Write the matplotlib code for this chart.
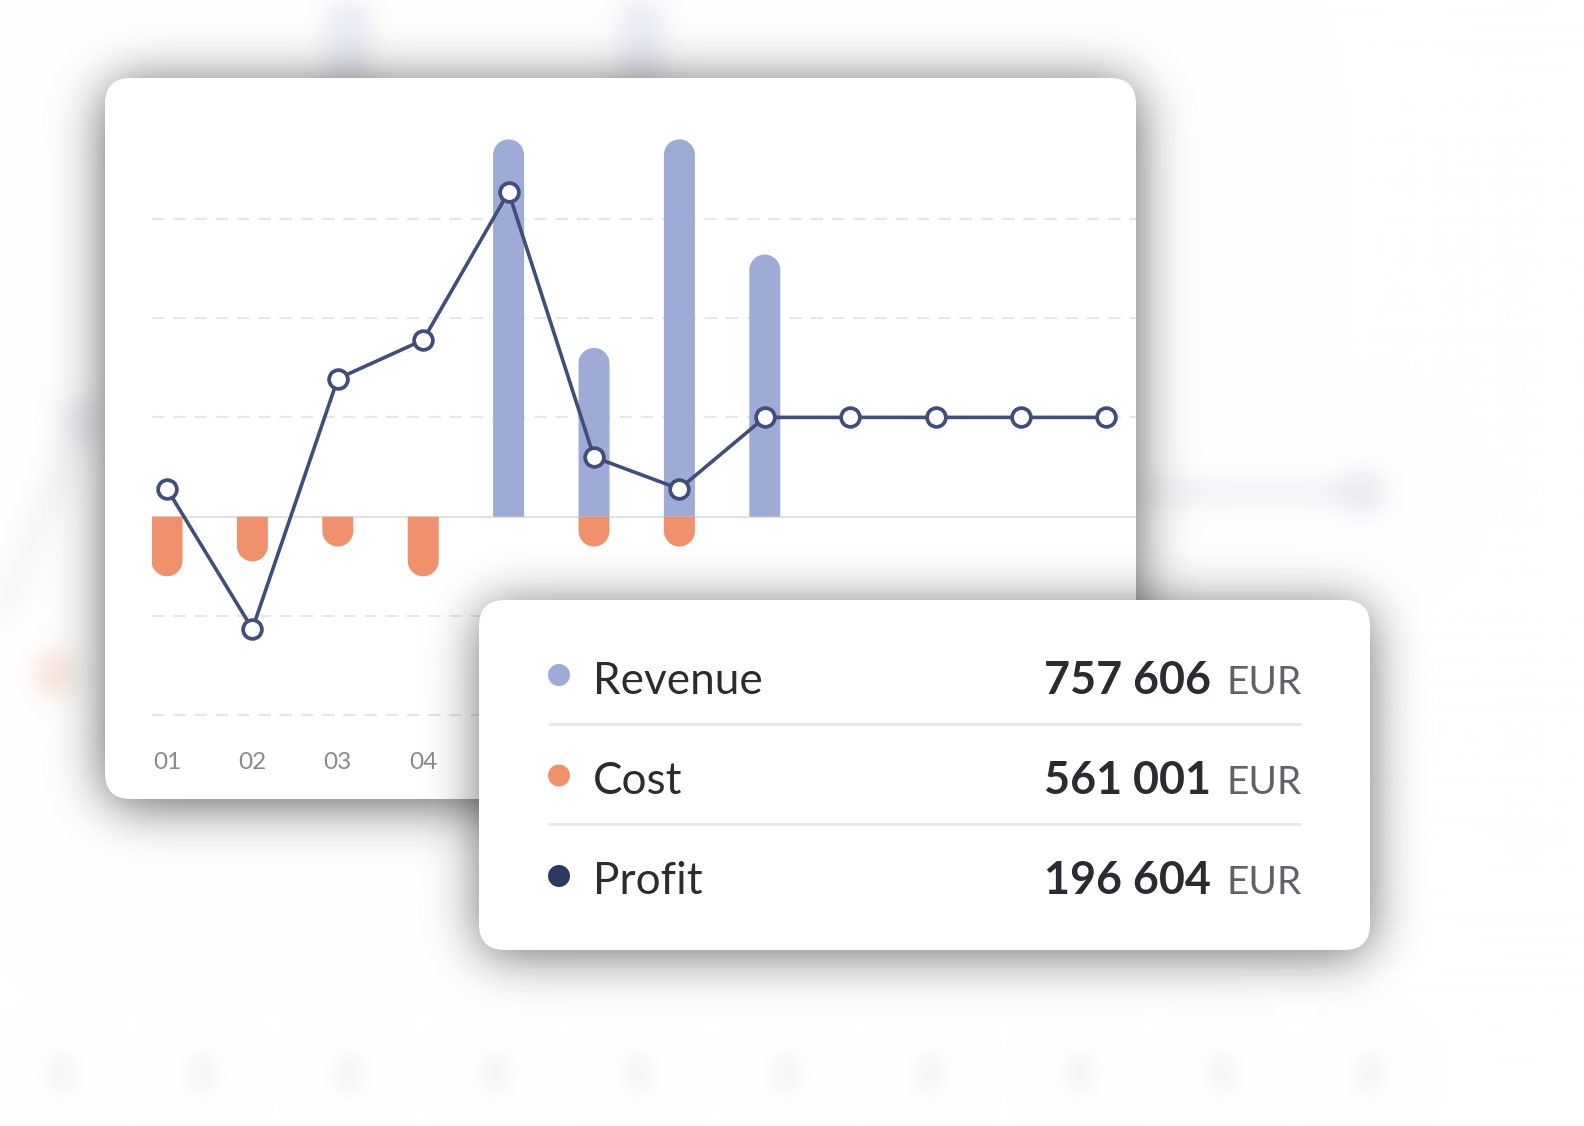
import numpy as np
import matplotlib
matplotlib.use("Agg")
import matplotlib.pyplot as plt
from matplotlib.colors import to_rgb
from matplotlib.patches import FancyBboxPatch, Circle, Polygon

plt.rcParams['font.family'] = ['Lato', 'DejaVu Sans']

# ---- data (k EUR per month) ----
months = ["01", "02", "03", "04", "05", "06", "07", "08", "09", "10", "11", "12"]
revenue = [0, 0, 0, 0, 380, 170, 380, 264, 0, 0, 0, 0]
cost = [-60, -45, -30, -60, 0, -30, -30, 0, 0, 0, 0, 0]
profit = [28, -113, 139, 178, 327, 60, 28, 100, 100, 100, 100, 100]
grid_levels = [-200, -100, 100, 200, 300]

legend_names = ["Revenue", "Cost", "Profit"]
legend_values = ["757 606", "561 001", "196 604"]
legend_unit = "EUR"

REV_COLOR = "#9dabd6"
COST_COLOR = "#f0916e"
LINE_COLOR = "#414e78"
PROFIT_DOT = "#2c3961"
legend_colors = [REV_COLOR, COST_COLOR, PROFIT_DOT]

# ---- canvas in pixels ----
W, H = 1584, 1126
CARD1 = (105, 78, 1136, 799)      # x0, y0, x1, y1
CARD2 = (479, 600, 1370, 950)
RADIUS = 26

# chart mapping: month 1 at px 167, 85.4 px per month; zero at px 516.7, 0.993 px per k
X0_PX, DX_PX = 167.0, 85.4
Y0_PX, DY_PX = 516.7, 0.993


def x_of(px):
    return 1 + (px - X0_PX) / DX_PX


def y_of(py):
    return (Y0_PX - py) / DY_PX


yy, xx = np.mgrid[0:H, 0:W].astype(float)


def rrect(x0, y0, x1, y1, r):
    cx = np.clip(xx, x0 + r, x1 - r)
    cy = np.clip(yy, y0 + r, y1 - r)
    return (np.hypot(xx - cx, yy - cy) <= r).astype(float)


def ellipse(cx, cy, rx, ry):
    return ((((xx - cx) / rx) ** 2 + ((yy - cy) / ry) ** 2) <= 1).astype(float)


def segment(x0, y0, x1, y1, w):
    dx, dy = x1 - x0, y1 - y0
    t = np.clip(((xx - x0) * dx + (yy - y0) * dy) / (dx * dx + dy * dy), 0, 1)
    d = np.hypot(xx - (x0 + t * dx), yy - (y0 + t * dy))
    return (d <= w / 2).astype(float)


def blur(img, sigma):
    pad = int(4 * sigma)
    p = np.pad(img, pad)
    fy = np.fft.fftfreq(p.shape[0])[:, None]
    fx = np.fft.rfftfreq(p.shape[1])[None, :]
    g = np.exp(-2 * (np.pi * sigma) ** 2 * (fx ** 2 + fy ** 2))
    out = np.fft.irfft2(np.fft.rfft2(p) * g, s=p.shape)
    return out[pad:-pad, pad:-pad]


def tint(base, mask, color, alpha, sigma):
    a = np.clip(blur(mask, sigma), 0, 1)[..., None] * alpha
    return base * (1 - a) + np.array(to_rgb(color)) * a


# ---- blurred "ghost" chart behind the cards ----
ghost_bar_x = [348, 641]
ghost_label_x = [61, 202, 348, 495, 638, 786, 929, 1079, 1222, 1369]

bg = np.ones((H, W, 3))
blue = np.zeros((H, W))
for gx in ghost_bar_x:
    blue = np.maximum(blue, rrect(gx - 20, -60, gx + 20, 200, 20))
bg = tint(bg, blue, "#8f9cc8", 0.2, 14)

line_ghost = np.maximum(segment(-10, 640, 80, 420, 12), ellipse(80, 420, 20, 20))
line_ghost = np.maximum(line_ghost, segment(1130, 492, 1360, 492, 14))
line_ghost = np.maximum(line_ghost, ellipse(1362, 492, 22, 22))
bg = tint(bg, line_ghost, "#7d88ad", 0.2, 14)

bg = tint(bg, ellipse(55, 673, 22, 22), COST_COLOR, 0.25, 12)

labels_ghost = np.zeros((H, W))
for gx in ghost_label_x:
    labels_ghost = np.maximum(labels_ghost, ellipse(gx, 1073, 15, 22))
bg = tint(bg, labels_ghost, "#9a9a9a", 0.1, 8)

# card shadows
sh1 = np.clip(blur(rrect(CARD1[0], CARD1[1] + 5, CARD1[2], CARD1[3] + 5, RADIUS), 26), 0, 1) * 0.62
bg = bg * (1 - sh1[..., None])
sh2 = np.clip(blur(rrect(CARD2[0], CARD2[1] + 5, CARD2[2], CARD2[3] + 5, RADIUS), 25), 0, 1) * 0.6
shadow2 = np.zeros((H, W, 4))
shadow2[..., :3] = 0.08
shadow2[..., 3] = sh2

fig = plt.figure(figsize=(W / 100, H / 100), dpi=100)

# ---- background layer with the chart card ----
ax_bg = fig.add_axes([0, 0, 1, 1], zorder=0)
ax_bg.imshow(bg, extent=(0, W, H, 0), interpolation="nearest", aspect="auto")
ax_bg.add_patch(FancyBboxPatch((CARD1[0], CARD1[1]), CARD1[2] - CARD1[0], CARD1[3] - CARD1[1],
                               boxstyle=f"round,pad=0,rounding_size={RADIUS}",
                               fc="white", ec="none"))
ax_bg.set_xlim(0, W)
ax_bg.set_ylim(H, 0)
ax_bg.axis("off")

# ---- chart ----
L, R, T, B = 152, 1136, 100, 740
ax = fig.add_axes([L / W, 1 - B / H, (R - L) / W, (B - T) / H], zorder=1)
ax.set_facecolor("none")
ax.set_xlim(x_of(L), x_of(R))
ax.set_ylim(y_of(B), y_of(T))
ax.axis("off")

for g in grid_levels:
    ax.axhline(g, color="#e6e6e6", lw=1.5, ls=(0, (5.9, 4.3)), zorder=0.5)
ax.axhline(0, color="#e2e2e4", lw=1.5, zorder=0.6)

x = np.arange(1, len(months) + 1)
half_w = 15.5 / DX_PX      # half bar width in data units (31 px bars)
cap_ry = 15.5 / DY_PX      # cap radius in y data units
theta = np.linspace(0, np.pi, 40)


def round_bar(xc, v, color):
    s = np.sign(v)
    end = v - s * cap_ry
    arc = np.column_stack([xc + half_w * np.cos(theta), end + s * cap_ry * np.sin(theta)])
    pts = np.vstack([[xc + half_w, 0], arc, [xc - half_w, 0]])
    ax.add_patch(Polygon(pts, closed=True, fc=color, ec="none", zorder=2))


for series, color in [(revenue, REV_COLOR), (cost, COST_COLOR)]:
    for xi, v in zip(x, series):
        if v != 0:
            round_bar(xi, v, color)

ax.plot(x, profit, color=LINE_COLOR, lw=2.6, marker="o", ms=13.5, mfc="white",
        mec=LINE_COLOR, mew=2.7, zorder=4, clip_on=False)

# month labels (those under the legend card are hidden in the design)
for xi, m in zip(x, months):
    if X0_PX + (xi - 1) * DX_PX + 20 < CARD2[0]:
        ax.text(xi, y_of(769), m, ha="center", va="baseline", fontsize=17.5,
                color="#8a8a8a", clip_on=False)

# ---- legend card ----
ax_fg = fig.add_axes([0, 0, 1, 1], zorder=2)
ax_fg.set_facecolor("none")
ax_fg.imshow(shadow2, extent=(0, W, H, 0), interpolation="nearest", aspect="auto", zorder=1)
ax_fg.add_patch(FancyBboxPatch((CARD2[0], CARD2[1]), CARD2[2] - CARD2[0], CARD2[3] - CARD2[1],
                               boxstyle=f"round,pad=0,rounding_size={RADIUS}",
                               fc="white", ec="none", zorder=2))
ax_fg.set_xlim(0, W)
ax_fg.set_ylim(H, 0)
ax_fg.axis("off")

row_h = 100.5
for k, (name, val, col) in enumerate(zip(legend_names, legend_values, legend_colors)):
    cy = 675 + k * row_h
    base = 693.5 + k * row_h
    ax_fg.add_patch(Circle((559, cy), 11, fc=col, ec="none", zorder=3))
    ax_fg.text(593, base, name, ha="left", va="baseline", fontsize=31.8,
               color="#2a2c31", zorder=3)
    ax_fg.text(1211, base, val, ha="right", va="baseline", fontsize=32.3,
               fontweight="bold", color="#2a2c31", zorder=3)
    ax_fg.text(1302, base, legend_unit, ha="right", va="baseline", fontsize=28,
               color="#5f6268", zorder=3)
    if k < len(legend_names) - 1:
        sy = 723.5 + k * row_h
        ax_fg.plot([547.5, 1301], [sy, sy], color="#e6e6e6", lw=2, zorder=3,
                   solid_capstyle="butt")

fig.savefig("out.png", dpi=100)
